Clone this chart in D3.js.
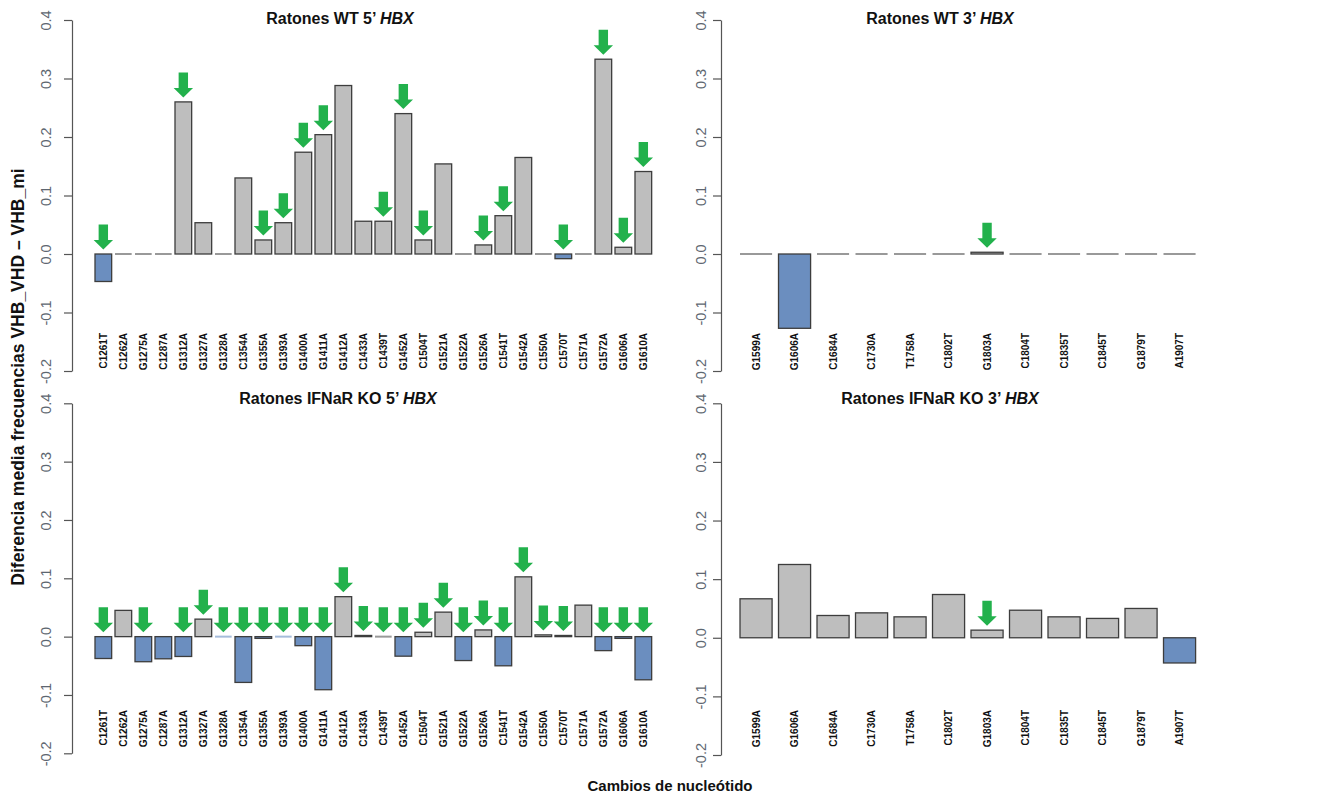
<!DOCTYPE html>
<html>
<head>
<meta charset="utf-8">
<script src="https://cdn.jsdelivr.net/npm/d3@7"></script>
<style>
  body { margin: 0; background: #fff; }
  svg { font-family: "Liberation Sans", Arial, sans-serif; }
  .eje text { font-size: 14.5px; }
</style>
</head>
<body>
<div id="grafico"></div>
<script>
// cambios de nucleotido (5' y 3')
const cambios5 = ["C1261T","C1262A","G1275A","C1287A","G1312A","G1327A","G1328A","C1354A","G1355A","G1393A",
  "G1400A","G1411A","G1412A","C1433A","C1439T","G1452A","C1504T","G1521A","G1522A","G1526A",
  "C1541T","G1542A","C1550A","C1570T","C1571A","G1572A","G1606A","G1610A"];
const cambios3 = ["G1599A","G1606A","C1684A","C1730A","T1758A","C1802T","G1803A","C1804T","C1835T","C1845T","G1879T","A1907T"];

// diferencia media VHB_VHD - VHB_mi
const wt5 = [-0.047, 0, 0, 0, 0.260, 0.0535, 0, 0.130, 0.024, 0.0535,
  0.174, 0.204, 0.288, 0.056, 0.056, 0.240, 0.024, 0.154, 0, 0.0155,
  0.0655, 0.165, 0, -0.008, 0, 0.333, 0.0115, 0.141];
const ko5 = [-0.0375, 0.045, -0.043, -0.038, -0.034, 0.030, -0.0004, -0.0785, -0.003, -0.0004,
  -0.0155, -0.091, 0.0685, 0.002, 0, -0.0335, 0.0075, 0.042, -0.041, 0.0115,
  -0.050, 0.1025, 0.003, 0.002, 0.054, -0.024, -0.003, -0.074];
const wt3 = [0, -0.127, 0, 0, 0, 0, 0.003, 0, 0, 0, 0, 0];
const ko3 = [0.0665, 0.125, 0.038, 0.0425, 0.0357, 0.0738, 0.013, 0.047, 0.0357, 0.033, 0.050, -0.043];

// flechas verdes
const flechasWt5 = ["C1261T","G1312A","G1355A","G1393A","G1400A","G1411A","C1439T","G1452A","C1504T",
  "G1526A","C1541T","C1570T","G1572A","G1606A","G1610A"];
const flechasKo5 = ["C1261T","G1275A","G1312A","G1327A","G1328A","C1354A","G1355A","G1393A","G1400A",
  "G1411A","G1412A","C1433A","C1439T","G1452A","C1504T","G1521A","G1522A","G1526A","C1541T",
  "G1542A","C1550A","C1570T","G1572A","G1606A","G1610A"];
const flechasWt3 = ["G1803A"];
const flechasKo3 = ["G1803A"];

const yTicks = [-0.2, -0.1, 0, 0.1, 0.2, 0.3, 0.4];

const svg = d3.select("#grafico").append("svg").attr("width", 1320).attr("height", 795);

function panel(cats, valores, flechas, titulo, p) {
    var x = d3.scaleBand().domain(cats).range([p.x0, p.x1]).paddingInner(1/6).paddingOuter(1/12);
    var y = d3.scaleLinear().domain([-0.2, 0.4]).range([p.yb, p.yt]);
    var g = svg.append("g");

    // eje y
    var eje = g.append("g").attr("class", "eje").attr("transform", "translate(" + p.ejeX + ",0)")
        .call(d3.axisLeft(y).tickValues(yTicks).tickSize(8).tickSizeOuter(0).tickFormat(v => v.toFixed(1)));
    eje.attr("font-family", null);
    eje.selectAll("path, line").attr("stroke", "#555").attr("stroke-width", 1.2);
    eje.selectAll("text")
        .attr("x", null).attr("dy", "0.35em")
        .attr("text-anchor", "middle")
        .attr("transform", "translate(" + (-p.offTick) + ",0) rotate(-90)")
        .attr("fill", "#5d6670");

    var datos = cats.map((c, i) => ({c: c, v: valores[i], f: flechas.includes(c)}));
    var vacias = datos.filter(d => Math.abs(d.v) < 0.001);
    var llenas = datos.filter(d => Math.abs(d.v) >= 0.001);

    // barras
    g.selectAll("rect.barra").data(llenas).enter().append("rect")
        .attr("class", "barra")
        .attr("x", d => x(d.c))
        .attr("width", x.bandwidth())
        .attr("y", d => y(Math.max(d.v, 0)))
        .attr("height", d => Math.abs(y(d.v) - y(0)))
        .attr("fill", d => d.v < 0 ? "#6b8ebf" : "#bebebe")
        .attr("stroke", "#3d3d3d")
        .attr("stroke-width", 1.3);

    // barras a cero: solo una raya
    g.selectAll("line.cero").data(vacias).enter().append("line")
        .attr("class", "cero")
        .attr("x1", d => x(d.c)).attr("x2", d => x(d.c) + x.bandwidth())
        .attr("y1", y(0)).attr("y2", y(0))
        .attr("stroke", d => d.v < 0 ? "#a6bcdb" : "#999")
        .attr("stroke-width", 2);

    // flechas
    g.selectAll("path.flecha").data(datos.filter(d => d.f)).enter().append("path")
        .attr("class", "flecha")
        .attr("d", "M-4.7,-25 L4.7,-25 L4.7,-9.5 L9.7,-9.5 L0,0 L-9.7,-9.5 L-4.7,-9.5 Z")
        .attr("transform", d => "translate(" + (x(d.c) + x.bandwidth() / 2) + "," + (y(Math.max(d.v, 0)) - 4.5) + ")")
        .attr("fill", "#22b14c");

    // etiquetas de categoria
    g.selectAll("text.cat").data(datos).enter().append("text")
        .attr("class", "cat")
        .attr("transform", d => "translate(" + (x(d.c) + x.bandwidth() / 2) + "," + p.catY + ") rotate(-90)")
        .attr("dy", "0.35em")
        .attr("text-anchor", "end")
        .attr("font-size", 10).attr("font-weight", "bold").attr("fill", "#111")
        .text(d => d.c);

    // titulo
    var t = g.append("text").attr("x", p.titX).attr("y", p.titY)
        .attr("text-anchor", "middle").attr("font-size", 16).attr("font-weight", "bold").attr("fill", "#111");
    t.append("tspan").text(titulo + " ");
    t.append("tspan").attr("font-style", "italic").text("HBX");
}

panel(cambios5, wt5, flechasWt5, "Ratones WT 5\u2019",
    {x0: 93.33, x1: 653.33, yt: 20, yb: 371, ejeX: 72, offTick: 26, catY: 333, titX: 340, titY: 24});
panel(cambios3, wt3, flechasWt3, "Ratones WT 3\u2019",
    {x0: 736.8, x1: 1198.8, yt: 20, yb: 371, ejeX: 721, offTick: 20, catY: 333, titX: 940, titY: 24});
panel(cambios5, ko5, flechasKo5, "Ratones IFNaR KO 5\u2019",
    {x0: 93.33, x1: 653.33, yt: 403.3, yb: 753.3, ejeX: 72, offTick: 26, catY: 710, titX: 338, titY: 404});
panel(cambios3, ko3, flechasKo3, "Ratones IFNaR KO 3\u2019",
    {x0: 736.8, x1: 1198.8, yt: 403.3, yb: 755, ejeX: 721, offTick: 20, catY: 710, titX: 940, titY: 404});

// titulos de ejes
svg.append("text")
    .attr("transform", "translate(18,377) rotate(-90)")
    .attr("dy", "0.35em")
    .attr("text-anchor", "middle")
    .attr("font-size", 17.5).attr("font-weight", "bold").attr("fill", "#111")
    .text("Diferencia media frecuencias VHB_VHD \u2013 VHB_mi");

svg.append("text")
    .attr("x", 670).attr("y", 791)
    .attr("text-anchor", "middle")
    .attr("font-size", 15).attr("font-weight", "bold").attr("fill", "#111")
    .text("Cambios de nucle\u00f3tido");
</script>
</body>
</html>
